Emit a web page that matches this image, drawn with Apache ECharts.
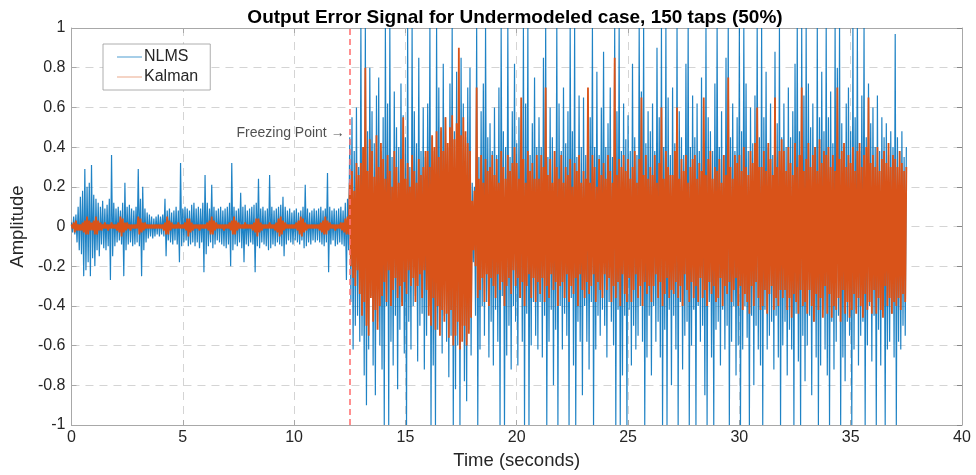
<!DOCTYPE html>
<html>
<head>
<meta charset="utf-8">
<script src="https://cdn.jsdelivr.net/npm/echarts@6/dist/echarts.min.js"></script>
<style>
  html, body { margin: 0; padding: 0; background: #fff; }
  #chart { width: 976px; height: 475px; }
</style>
</head>
<body>
<div id="chart"></div>
<script>
// ---- data: sample step 0.05 s, t = 0 ... 37.5 s; values in hundredths of amplitude ----
const sampleStep = 0.05;
const valueUnit = 0.01;
const freezeTime = 12.5;
const xTicks = [0, 5, 10, 15, 20, 25, 30, 35, 40];
const yTicks = [-1, -0.8, -0.6, -0.4, -0.2, 0, 0.2, 0.4, 0.6, 0.8, 1];
const seriesNames = ['NLMS', 'Kalman'];
const annotation = { t: 12.27, v: 0.47, text: 'Freezing Point \u2192' };

// NLMS error, one row per second (t = k.00, k.05, ... k.95)
const nlmsRows = [
  [2,-3,5,-4,6,-8,10,-12,15,-14,18,-25,29,-22,20,-18,22,-25,31,-16],
  [16,-20,14,-12,12,-15,10,-9,13,-11,9,-12,11,-10,14,-27,36,-15,12,-10],
  [9,-8,10,-7,8,-9,12,-25,22,-12,10,-9,11,-8,9,-10,8,-9,10,-8],
  [29,-10,14,-25,20,-12,9,-8,7,-6,6,-5,5,-6,4,-5,5,-4,6,-5],
  [5,-4,6,-5,14,-15,8,-7,9,-8,7,-9,8,-7,10,-9,8,-18,32,-10],
  [9,-8,10,-7,9,-10,8,-9,11,-8,12,-10,9,-8,10,-11,9,-8,12,-23],
  [26,-14,12,-10,9,-8,21,-11,10,-9,8,-7,9,-8,10,-9,8,-10,9,-11],
  [10,-9,12,-20,32,-12,10,-9,8,-10,9,-8,17,-11,10,-18,11,-9,8,-10],
  [9,-8,10,-9,11,-23,12,-10,24,-11,9,-8,10,-9,8,-10,9,-12,26,-11],
  [10,-9,8,-10,9,-8,10,-9,11,-10,15,-15,10,-9,8,-7,9,-8,7,-9],
  [8,-7,9,-8,7,-9,8,-7,10,-11,21,-10,9,-8,7,-9,8,-7,9,-8],
  [8,-7,9,-8,10,-9,8,-10,9,-8,27,-23,10,-9,8,-7,9,-10,8,-9],
  [9,-8,10,-9,8,-10,12,-27,14,-12,45,-38,55,-62,38,-50,60,-45,30,-58],
  [100,-55,40,-75,100,-90,48,-62,80,-35,58,-70,42,-85,66,-48,75,-60,38,-72],
  [55,-100,100,-40,62,-100,100,-58,35,-70,68,-45,50,-82,40,-52,72,-38,56,-64],
  [45,-100,100,-48,30,-62,100,-40,58,-35,42,-68,85,-50,38,-44,60,-72,35,-55],
  [62,-40,100,-100,45,-70,38,-100,100,-52,70,-36,48,-64,82,-45,55,-58,40,-76],
  [72,-55,100,-100,48,-82,78,-60,58,-100,85,-50,62,-78,45,-88,70,-52,80,-65],
  [22,-18,20,-45,100,-100,35,-62,58,-40,72,-55,100,-38,45,-66,52,-48,38,-70],
  [60,-42,36,-58,70,-100,100,-35,48,-100,40,-65,100,-50,35,-72,58,-40,82,-48],
  [42,-70,55,-36,38,-58,100,-100,62,-44,100,-100,36,-60,52,-38,75,-55,40,-62],
  [55,-38,40,-66,85,-45,100,-100,35,-58,60,-42,45,-80,38,-52,100,-100,62,-40],
  [38,-62,70,-44,42,-55,58,-100,100,-36,48,-70,100,-100,35,-48,66,-58,40,-85],
  [65,-40,36,-58,48,-72,55,-38,100,-100,40,-62,78,-45,36,-55,60,-42,88,-50],
  [40,-66,52,-38,70,-48,35,-60,100,-100,58,-42,100,-100,38,-75,62,-45,44,-100],
  [56,-42,38,-70,82,-50,45,-62,36,-55,100,-40,68,-58,100,-100,42,-66,58,-45],
  [48,-75,62,-40,38,-58,90,-48,55,-66,100,-100,40,-52,100,-100,65,-42,36,-80],
  [70,-45,42,-62,100,-100,58,-38,45,-72,36,-55,82,-48,100,-100,40,-60,66,-42],
  [45,-100,62,-40,38,-58,75,-50,42,-85,100,-100,55,-38,48,-66,38,-100,72,-52],
  [100,-48,40,-70,58,-42,36,-62,85,-50,100,-100,45,-58,62,-40,38,-75,55,-60],
  [100,-100,48,-62,100,-40,72,-56,38,-100,60,-45,42,-80,66,-50,100,-62,45,-70],
  [100,-100,55,-42,78,-62,40,-55,62,-48,36,-72,88,-45,52,-66,100,-100,45,-60],
  [62,-48,40,-75,70,-52,45,-62,58,-100,82,-44,100,-68,48,-100,100,-55,66,-78],
  [100,-60,72,-45,50,-85,62,-48,40,-66,100,-100,55,-70,78,-42,48,-62,100,-75],
  [55,-100,68,-48,42,-72,100,-58,80,-45,100,-100,52,-66,40,-78,62,-48,70,-55],
  [48,-100,100,-62,55,-42,100,-70,38,-55,66,-48,100,-100,45,-60,72,-40,52,-68],
  [60,-45,40,-100,66,-52,38,-70,55,-40,45,-100,52,-62,36,-58,48,-44,40,-66],
  [97,-100,45,-58,38,-62,48,-50,35,-55,40]
];

// Kalman error, one row per second (t = k.00, k.05, ... k.95)
const kalmanRows = [
  [1,-1,2,-3,3,-2,1,-2,1,-2,2,-3,3,-4,5,-4,3,-2,2,-2],
  [3,-4,5,-4,3,-2,2,-2,1,-1,2,-1,1,-2,1,-1,2,-1,1,-1],
  [1,-2,2,-3,5,-5,4,-3,2,-2,2,-1,1,-2,1,-1,1,-1,1,-1],
  [5,-4,4,-3,2,-2,2,-1,1,-1,1,-1,1,-1,1,-1,1,-1,1,-1],
  [1,-1,1,-2,2,-4,5,-4,3,-2,2,-1,1,-1,1,-1,2,-1,1,-1],
  [1,-1,2,-2,4,-5,4,-3,2,-2,1,-1,1,-1,1,-2,1,-1,1,-1],
  [1,-1,2,-2,3,-4,5,-4,3,-2,2,-1,1,-1,1,-1,1,-2,1,-1],
  [1,-1,2,-2,3,-4,5,-4,3,-2,2,-1,1,-1,1,-1,2,-1,1,-1],
  [1,-1,1,-2,2,-3,4,-5,4,-3,2,-2,1,-1,1,-1,1,-1,2,-1],
  [1,-1,1,-2,2,-3,4,-5,5,-4,3,-2,2,-1,1,-1,1,-1,1,-1],
  [1,-1,2,-2,3,-4,5,-5,4,-3,2,-2,1,-1,1,-1,1,-1,1,-1],
  [1,-1,1,-2,2,-3,3,-4,5,-4,3,-2,2,-1,1,-1,1,-2,1,-1],
  [1,-1,2,-2,2,-3,4,-4,5,-4,22,-20,28,-26,18,-30,32,-22,26,-34],
  [32,-45,40,-38,80,-50,28,-55,44,-36,38,-48,25,-42,46,-52,30,-40,42,-35],
  [34,-28,24,-38,36,-22,28,-40,20,-32,38,-26,30,-36,22,-30,34,-40,55,-28],
  [24,-34,32,-22,20,-30,36,-26,28,-38,22,-30,34,-24,26,-36,30,-22,38,-32],
  [38,-45,30,-50,46,-36,40,-52,48,-40,35,-55,50,-42,38,-48,55,-44,42,-56],
  [50,-42,56,-60,44,-55,52,-48,90,-62,46,-58,55,-50,48,-60,42,-54,38,-46],
  [13,-12,18,-20,70,-36,24,-32,36,-26,22,-38,34,-24,28,-40,30,-26,36,-30],
  [26,-36,34,-24,22,-32,38,-28,30,-40,24,-30,36,-26,28,-34,32,-22,40,-30],
  [32,-26,24,-36,65,-28,34,-40,22,-30,38,-24,28,-36,32,-26,24,-38,36,-28],
  [24,-34,36,-26,30,-38,70,-30,26,-36,34,-24,22,-32,38,-28,30,-40,24,-30],
  [36,-28,22,-36,30,-24,26,-38,34,-30,20,-34,32,-26,28,-40,36,-24,22,-32],
  [28,-36,24,-28,70,-34,22,-30,36,-24,30,-38,20,-28,34,-32,26,-36,32,-24],
  [24,-32,36,-26,28,-38,22,-30,85,-36,26,-28,34,-40,30,-24,36,-34,28,-38],
  [34,-26,24,-38,30,-32,38,-24,22,-36,34,-30,65,-40,26,-28,36,-34,24,-30],
  [30,-38,26,-30,36,-24,22,-36,32,-28,60,-40,24,-34,38,-26,30,-36,26,-32],
  [26,-34,38,-28,60,-36,24,-30,34,-40,28,-24,36,-32,22,-38,30,-28,34,-36],
  [36,-30,24,-38,32,-26,28,-36,65,-32,26,-40,34,-28,38,-34,24,-30,30,-38],
  [28,-36,34,-26,22,-40,36,-30,26,-34,75,-28,30,-38,24,-32,36,-26,32,-40],
  [36,-30,28,-42,40,-34,30,-38,26,-44,38,-30,32,-40,42,-28,60,-36,30,-42],
  [30,-40,38,-32,28,-44,42,-34,34,-30,26,-42,65,-36,30,-40,38,-32,44,-36],
  [38,-32,28,-42,40,-36,32,-46,26,-34,42,-38,30,-44,36,-32,70,-40,28,-38],
  [34,-44,42,-32,30,-40,36,-48,40,-34,28,-42,44,-36,32,-46,38,-30,36,-44],
  [40,-34,30,-46,36,-40,28,-42,70,-36,34,-48,38,-32,42,-44,30,-38,36,-46],
  [32,-42,40,-34,28,-44,38,-36,42,-40,30,-46,36,-34,40,-42,65,-38,32,-44],
  [36,-32,30,-44,40,-36,28,-42,34,-46,38,-30,32,-40,42,-36,30,-44,36,-38],
  [34,-40,30,-36,38,-42,32,-34,28,-38,30]
];

// ---- build series ----
function toPairs(rows) {
  const flat = [].concat(...rows);
  return flat.map((v, i) => [Math.round(i * sampleStep * 100) / 100, v * valueUnit]);
}
const nlmsData = toPairs(nlmsRows);
const kalmanData = toPairs(kalmanRows);

const axisColor = '#a8a8a8';
const textColor = '#262626';
const font = '"Liberation Sans", Arial, Helvetica, sans-serif';

const chart = echarts.init(document.getElementById('chart'), null, { renderer: 'canvas' });

const option = {
  animation: false,
  backgroundColor: '#fff',
  title: {
    text: 'Output Error Signal for Undermodeled case, 150 taps (50%)',
    left: 510,
    textAlign: 'center',
    top: 3,
    textStyle: { fontFamily: font, fontSize: 19, fontWeight: 'bold', color: '#000' }
  },
  grid: { left: 70, right: 14, top: 28, bottom: 47, containLabel: false },
  legend: {
    data: [
      { name: seriesNames[0], icon: 'rect', itemStyle: { color: '#0072BD', opacity: 0.7 } },
      { name: seriesNames[1], icon: 'rect', itemStyle: { color: '#D95319', opacity: 0.5 } }
    ],
    orient: 'vertical',
    left: 103,
    top: 44,
    padding: [4, 12, 4, 14],
    itemGap: 2,
    itemWidth: 25,
    itemHeight: 1,
    borderColor: '#9a9a9a',
    borderWidth: 0.8,
    borderRadius: 0,
    backgroundColor: '#fff',
    textStyle: { fontFamily: font, fontSize: 16, color: textColor, lineHeight: 18, padding: [0, 0, 0, -3] }
  },
  xAxis: [
    {
      type: 'value', min: xTicks[0], max: xTicks[xTicks.length - 1], interval: 5,
      name: 'Time (seconds)', nameLocation: 'middle', nameGap: 26,
      nameTextStyle: { fontFamily: font, fontSize: 18.5, color: textColor },
      axisLine: { show: true, onZero: false, lineStyle: { color: axisColor, width: 1 } },
      axisTick: { show: true, inside: true, length: 5, lineStyle: { color: axisColor } },
      axisLabel: { fontFamily: font, fontSize: 16, color: textColor, margin: 5 },
      splitLine: { show: true, lineStyle: { color: '#d4d4d4', type: [8, 6], width: 1 } }
    },
    {
      type: 'value', min: xTicks[0], max: xTicks[xTicks.length - 1], interval: 5, position: 'top',
      axisLine: { show: true, onZero: false, lineStyle: { color: axisColor, width: 1 } },
      axisTick: { show: true, inside: true, length: 5, lineStyle: { color: axisColor } },
      axisLabel: { show: false }, splitLine: { show: false }
    }
  ],
  yAxis: [
    {
      type: 'value', min: yTicks[0], max: yTicks[yTicks.length - 1], interval: 0.2,
      name: 'Amplitude', nameLocation: 'middle', nameGap: 34, nameRotate: 90,
      nameTextStyle: { fontFamily: font, fontSize: 18.5, color: textColor },
      axisLine: { show: true, onZero: false, lineStyle: { color: axisColor, width: 1 } },
      axisTick: { show: true, inside: true, length: 5, lineStyle: { color: axisColor } },
      axisLabel: { fontFamily: font, fontSize: 16, color: textColor, margin: 6,
        formatter: v => String(Math.round(v * 10) / 10) },
      splitLine: { show: true, lineStyle: { color: '#d4d4d4', type: [8, 6], width: 1 } }
    },
    {
      type: 'value', min: yTicks[0], max: yTicks[yTicks.length - 1], interval: 0.2, position: 'right',
      axisLine: { show: true, onZero: false, lineStyle: { color: axisColor, width: 1 } },
      axisTick: { show: true, inside: true, length: 5, lineStyle: { color: '#888' } },
      axisLabel: { show: false }, splitLine: { show: false }
    }
  ],
  series: [
    {
      name: seriesNames[0], type: 'line', data: nlmsData, showSymbol: false, symbol: 'none',
      xAxisIndex: 0, yAxisIndex: 0, clip: true,
      lineStyle: { color: '#0072BD', width: 1.2, opacity: 0.88, join: 'bevel' },
      itemStyle: { color: '#0072BD' }, z: 2
    },
    {
      name: seriesNames[1], type: 'line', data: kalmanData, showSymbol: false, symbol: 'none',
      xAxisIndex: 0, yAxisIndex: 0, clip: true,
      lineStyle: { color: '#D95319', width: 1.8, join: 'bevel' },
      itemStyle: { color: '#D95319' }, z: 3
    },
    {
      name: 'freeze', type: 'scatter', data: [[annotation.t, annotation.v]],
      symbolSize: 0, silent: true, z: 5,
      label: { show: true, position: 'left', distance: 0, formatter: annotation.text,
        fontFamily: font, fontSize: 14, color: textColor },
      markLine: {
        silent: true, symbol: 'none', label: { show: false },
        lineStyle: { color: '#ff7474', type: [6, 4], width: 1.6 },
        data: [{ xAxis: freezeTime }]
      }
    }
  ]
};
chart.setOption(option);
</script>
</body>
</html>
